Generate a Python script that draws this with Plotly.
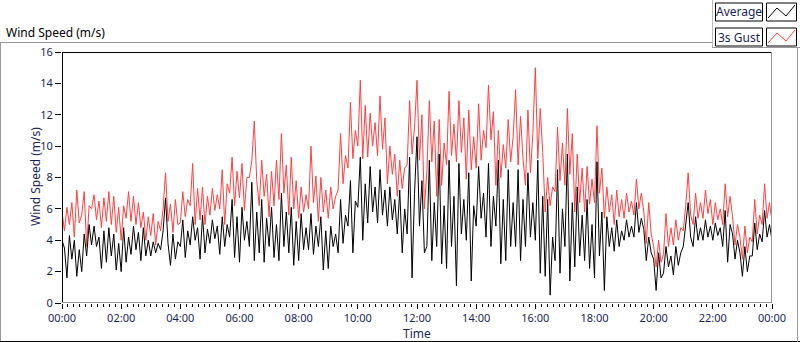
import plotly.graph_objects as go
import pandas as pd

# 3s gust (red), 5-minute readings 00:00 .. 24:00
gust = [
 5.8,4.6,6.1,5.0, 6.4,4.2,7.2,5.1, 5.6,7.1,3.6,6.2,
 6.0,6.9,5.3,6.5, 4.8,6.7,5.2,7.1, 5.0,6.8,4.5,6.1,
 4.0,6.2,5.4,7.1, 5.2,6.8,5.0,6.4, 4.8,5.8,4.0,5.5,
 4.3,5.7,3.7,5.2, 4.6,6.0,8.3,5.2, 6.3,4.5,6.6,5.0,
 5.1,7.1,5.5,6.6, 6.2,8.9,5.0,7.3, 5.3,7.4,5.0,6.8,
 5.6,7.3,5.9,6.9, 6.0,8.5,5.0,7.6, 7.0,9.3,6.2,8.4,
 6.7,8.9,5.9,8.0, 8.0,9.1,11.6,7.8, 6.2,9.1,6.8,8.2,
 5.5,8.4,6.2,9.1, 6.6,10.8,7.0,8.8, 5.6,9.3,6.0,7.8,
 5.4,7.4,5.8,6.9, 6.0,10.0,6.4,8.1, 5.2,8.0,5.8,7.2,
 5.4,7.4,6.0,6.8, 7.2,10.8,7.6,9.4, 8.6,12.8,9.2,11.0,
 10.0,14.2,9.2,12.6, 9.3,12.1,10.0,11.5, 9.4,13.2,9.8,11.8,
 7.6,10.0,8.2,9.5, 6.8,9.1,7.3,8.6, 8.8,12.9,9.5,11.2,
 14.2,9.1,12.0,6.0, 8.4,12.9,9.0,11.6, 6.8,11.7,7.5,10.2,
 8.8,13.5,9.4,11.4, 9.0,12.9,9.6,11.8, 7.9,12.3,8.5,10.6,
 8.6,12.7,9.1,11.0, 9.9,13.9,10.4,12.2, 7.5,11.0,8.0,10.1,
 8.6,11.7,9.0,10.6, 13.6,8.8,11.9,9.2, 7.5,12.3,8.3,10.8,
 15.0,9.2,12.4,9.6, 5.8,8.0,6.2,7.4, 7.1,11.2,7.8,10.2,
 7.5,12.4,8.2,10.8, 5.8,9.5,6.4,8.6, 5.8,8.7,6.3,7.9,
 6.4,11.3,7.0,8.6, 5.4,7.4,5.8,6.9, 5.0,7.2,5.5,6.6,
 5.4,7.0,5.8,6.5, 5.6,7.9,6.0,7.0, 5.8,3.8,6.4,4.4,
 3.6,2.3,4.0,2.6, 3.1,5.7,3.6,4.8, 3.7,5.3,4.0,4.8,
 4.6,6.2,8.3,5.6, 5.0,7.0,5.4,6.4, 5.4,7.2,5.7,6.6,
 5.0,6.4,5.3,6.0, 5.0,7.6,5.5,6.8, 5.5,3.7,5.0,4.2,
 2.8,4.9,3.2,4.2, 3.9,6.6,4.4,5.6, 5.0,7.6,5.4,6.4,
 5.2,
]

# average (black), 5-minute readings 00:00 .. 24:00
average = [
 4.0,3.5,1.6,4.3, 2.8,4.0,1.7,3.4, 2.0,4.4,3.0,5.0,
 3.7,4.9,3.6,4.2, 2.2,4.6,2.6,4.8, 3.0,4.4,2.1,3.8,
 2.0,4.8,2.6,4.2, 3.1,4.9,3.4,4.5, 2.7,4.8,3.0,4.0,
 3.0,3.9,3.2,3.8, 3.4,4.6,6.7,3.8, 2.4,4.4,2.8,3.9,
 3.6,5.3,2.9,4.6, 3.7,5.5,4.0,4.8, 2.8,5.6,3.2,4.7,
 3.8,5.3,4.1,4.9, 3.1,5.5,3.6,5.0, 4.2,6.6,2.9,5.5,
 2.6,6.1,4.0,5.2, 3.6,7.7,2.7,5.8, 3.2,6.6,2.6,5.4,
 3.6,6.1,2.9,5.0, 2.7,7.0,3.6,5.8, 3.2,6.1,2.4,5.2,
 2.7,5.7,3.4,4.8, 3.4,5.7,3.1,4.9, 3.6,5.5,2.1,4.6,
 2.2,4.9,3.6,4.4, 3.2,6.6,3.8,5.6, 4.9,7.8,3.2,6.5,
 6.1,9.3,4.0,7.6, 5.1,8.7,5.8,7.4, 5.1,8.5,5.6,7.2,
 4.9,7.4,5.3,6.6, 4.4,7.2,3.2,6.0, 4.4,9.3,1.6,7.0,
 10.6,4.9,7.8,3.2, 3.6,9.1,2.7,6.4, 3.6,9.5,2.5,6.2,
 2.2,9.1,3.6,6.8, 1.1,8.9,4.4,6.6, 4.0,8.3,1.4,6.2,
 4.9,8.7,5.4,7.0, 4.2,8.9,3.6,6.8, 4.9,9.1,2.5,6.6,
 2.7,8.5,3.6,6.4, 3.6,8.5,2.7,6.6, 3.6,8.3,4.2,6.4,
 4.0,9.1,1.9,6.8, 1.7,6.6,0.5,4.2, 2.7,8.5,1.9,6.0,
 3.6,9.5,1.4,6.4, 2.3,7.4,3.0,5.6, 2.7,6.6,2.2,5.0,
 1.6,9.0,3.0,5.8, 0.8,5.5,3.6,4.8, 3.3,5.3,3.6,4.6,
 4.0,5.3,4.2,4.9, 4.2,6.4,4.5,5.4, 4.7,2.7,4.2,3.2,
 2.8,0.8,3.2,1.6, 1.9,3.6,2.3,3.0, 1.8,3.6,2.4,3.2,
 3.6,5.2,6.4,4.2, 3.6,5.5,4.0,4.8, 4.0,5.3,4.2,4.9,
 4.0,5.1,4.3,4.8, 3.6,5.9,2.6,5.0, 4.4,2.8,4.0,3.2,
 1.7,3.6,2.0,3.0, 3.0,5.1,3.4,4.4, 3.9,5.9,4.2,5.0,
 4.0,
]

series_names = ["Average", "3s Gust"]
y_ticks = [0, 2, 4, 6, 8, 10, 12, 14, 16]

times = pd.date_range("2000-01-01 00:00", periods=len(gust), freq="5min")

W, H = 800, 342
L, R, T, B = 62, 28, 52, 39
PW, PH = W - L - R, H - T - B

def px(x):
    return (x - L) / PW

def py(y):
    return (H - B - y) / PH

RED = "#FF4040"
NAVY = "#1A1F5A"
FONT = "Noto Sans"

fig = go.Figure()
fig.add_trace(go.Scatter(x=times, y=gust, mode="lines", name=series_names[1],
                         line=dict(color=RED, width=1)))
fig.add_trace(go.Scatter(x=times, y=average, mode="lines", name=series_names[0],
                         line=dict(color="#000000", width=1)))

shapes = []
def line(x0, y0, x1, y1, color, w=1):
    shapes.append(dict(type="line", xref="paper", yref="paper",
                       x0=px(x0), y0=py(y0), x1=px(x1), y1=py(y1),
                       line=dict(color=color, width=w), layer="above"))

# plot-area frame: black top/left, grey right/bottom
line(62, 52.5, 772, 52.5, "#000000")
line(62.5, 52, 62.5, 303, "#000000")
line(771.5, 52, 771.5, 303, "#999999")
line(62, 302.5, 772, 302.5, "#999999")
# outer frame
line(0, 42.5, 712, 42.5, "#999999")
line(0.5, 42, 0.5, 342, "#999999")
line(0, 341.5, 800, 341.5, "#000000")
line(712.5, 0, 712.5, 48, "#bbbbbb")
line(712, 47.5, 800, 47.5, "#999999")
line(797.5, 47, 797.5, 342, "#999999")

# legend boxes
annotations = []
for i, (name, col) in enumerate(zip(series_names, ["#000000", RED])):
    y0 = 3 + i * 25
    y1 = y0 + 18
    shapes.append(dict(type="rect", xref="paper", yref="paper",
                       x0=px(715.5), x1=px(762.5), y0=py(y1), y1=py(y0),
                       line=dict(color="#000000", width=1), fillcolor="white"))
    shapes.append(dict(type="rect", xref="paper", yref="paper",
                       x0=px(766.5), x1=px(796.5), y0=py(y1), y1=py(y0),
                       line=dict(color="#000000", width=1), fillcolor="white"))
    pts = [(768, y0 + 15), (777, y0 + 5), (786, y0 + 13), (795, y0 + 2)]
    path = "M " + " L ".join(f"{px(a)},{py(b)}" for a, b in pts)
    shapes.append(dict(type="path", xref="paper", yref="paper", path=path,
                       line=dict(color=col, width=1)))
    annotations.append(dict(text=name, xref="paper", yref="paper",
                            x=px(739), y=py((y0 + y1) / 2), showarrow=False,
                            xanchor="center", yanchor="middle",
                            font=dict(family=FONT, size=12, color=NAVY)))

annotations.append(dict(text="Wind Speed (m/s)", xref="paper", yref="paper",
                        x=px(4), y=py(32), xanchor="left", yanchor="middle",
                        showarrow=False,
                        font=dict(family=FONT, size=12, color="#000000")))
annotations.append(dict(text="Wind Speed (m/s)", xref="paper", yref="paper",
                        x=px(35), y=py(177), xanchor="center", yanchor="middle",
                        textangle=-90, showarrow=False,
                        font=dict(family=FONT, size=12, color=NAVY)))
annotations.append(dict(text="Time", xref="paper", yref="paper",
                        x=px(417), y=py(333), xanchor="center", yanchor="middle",
                        showarrow=False,
                        font=dict(family=FONT, size=12, color=NAVY)))

fig.update_layout(
    width=W, height=H,
    margin=dict(l=L, r=R, t=T, b=B, autoexpand=False),
    paper_bgcolor="white", plot_bgcolor="white",
    showlegend=False,
    shapes=shapes, annotations=annotations,
    font=dict(family=FONT, size=11, color=NAVY),
    xaxis=dict(
        range=[pd.Timestamp("2000-01-01 00:00"), pd.Timestamp("2000-01-02 00:00")],
        tickformat="%H:%M", dtick=2 * 3600 * 1000,
        tick0=pd.Timestamp("2000-01-01 00:00"),
        ticks="outside", ticklen=5, tickcolor="#000000", tickwidth=1,
        minor=dict(dtick=12 * 60 * 1000, ticks="outside", ticklen=3,
                   tickcolor="#000000", showgrid=False),
        showgrid=False, zeroline=False, showline=False, automargin=False,
        tickfont=dict(family=FONT, size=11, color=NAVY),
    ),
    yaxis=dict(
        range=[0, 16], tickvals=y_ticks, ticks="outside", ticklen=6,
        tickcolor="#000000", tickwidth=1,
        showgrid=False, zeroline=False, showline=False, automargin=False,
        tickfont=dict(family=FONT, size=11, color=NAVY),
    ),
)

fig.write_html("out.html",
               config={"displayModeBar": False},
               post_script="document.body.style.margin='0px';document.body.style.overflow='hidden';")
